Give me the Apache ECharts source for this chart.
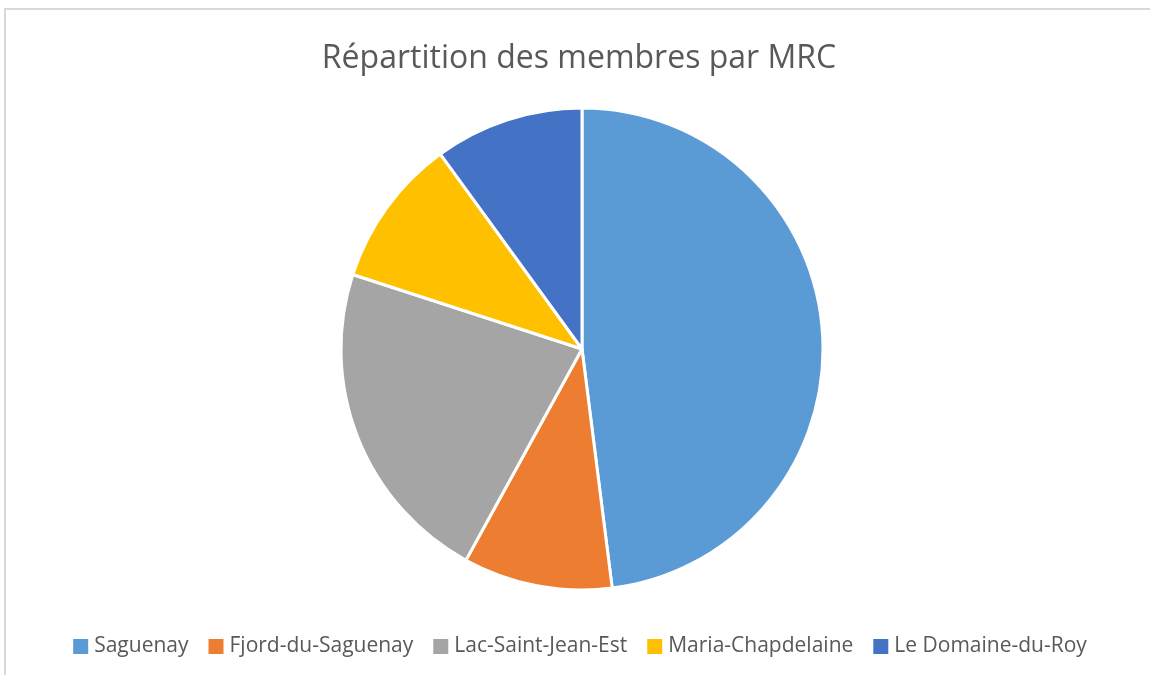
<!DOCTYPE html>
<html>
<head>
<meta charset="utf-8">
<script src="https://cdn.jsdelivr.net/npm/echarts@6/dist/echarts.min.js"></script>
<style>
    html, body { margin: 0; padding: 0; background: #fff; }
    #chart {
        position: absolute;
        left: 4px;
        top: 8px;
        width: 1146px;
        height: 667px;
        border-top: 2px solid #d9d9d9;
        border-left: 2px solid #d9d9d9;
    }
</style>
</head>
<body>
<div id="chart"></div>
<script>
    // MRC et part des membres (%)
    var mrcNames = ['Saguenay', 'Fjord-du-Saguenay', 'Lac-Saint-Jean-Est', 'Maria-Chapdelaine', 'Le Domaine-du-Roy'];
    var mrcValues = [48, 10, 22, 10, 10];
    var mrcColors = ['#5b9bd5', '#ed7d31', '#a5a5a5', '#ffc000', '#4472c4'];

    var pieData = [];
    for (var i = 0; i < mrcNames.length; i++) {
        pieData.push({ name: mrcNames[i], value: mrcValues[i] });
    }

    var chart = echarts.init(document.getElementById('chart'));
    var option = {
        color: mrcColors,
        title: {
            text: 'Répartition des membres par MRC',
            left: 'center',
            top: 28,
            textStyle: {
                color: '#595959',
                fontFamily: 'Open Sans',
                fontWeight: 'normal',
                fontSize: 32
            }
        },
        legend: {
            bottom: 15,
            left: 'center',
            itemWidth: 17,
            itemHeight: 17,
            itemGap: 18,
            icon: 'rect',
            textStyle: {
                color: '#595959',
                fontFamily: 'Open Sans',
                fontSize: 21
            },
            data: mrcNames
        },
        series: [{
            type: 'pie',
            radius: 241,
            center: [576, 339],
            startAngle: 90,
            clockwise: true,
            silent: true,
            label: { show: false },
            labelLine: { show: false },
            itemStyle: {
                borderColor: '#ffffff',
                borderWidth: 3
            },
            data: pieData
        }]
    };
    chart.setOption(option);
</script>
</body>
</html>
